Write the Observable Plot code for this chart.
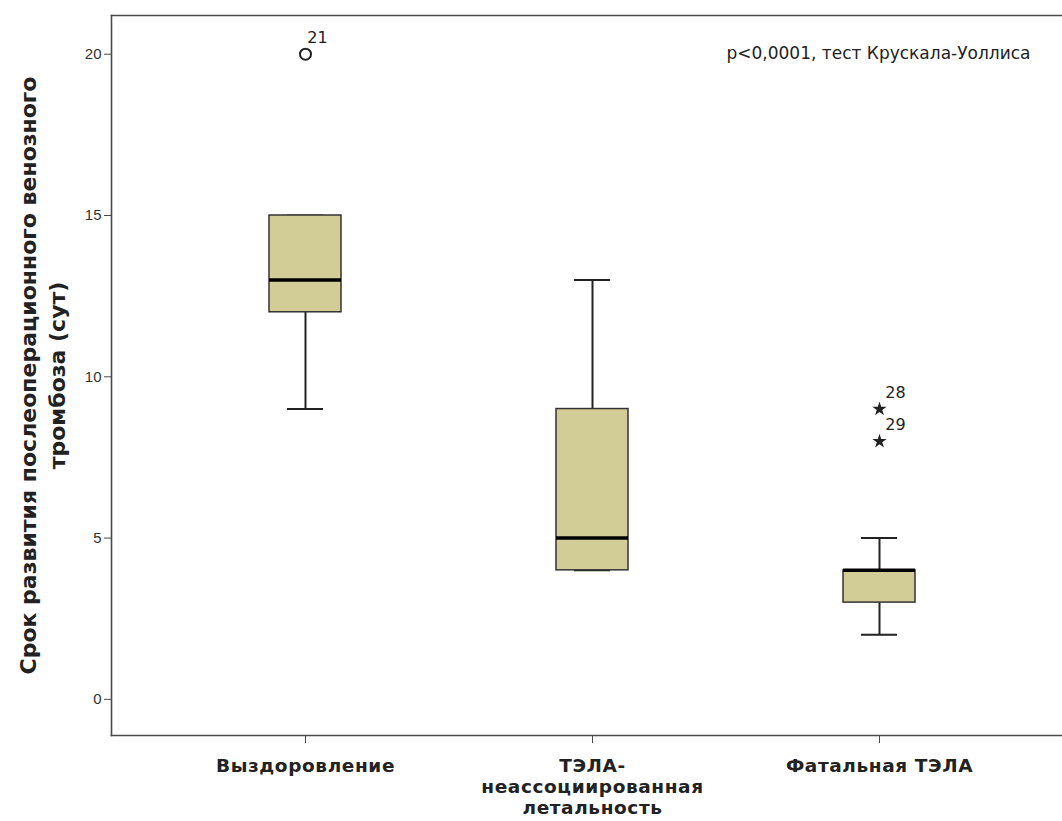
<!DOCTYPE html>
<html>
<head>
<meta charset="utf-8">
<script src="https://cdn.jsdelivr.net/npm/d3@7"></script>
<script src="https://cdn.jsdelivr.net/npm/@observablehq/plot@0.6"></script>
<style>
  html, body { margin: 0; padding: 0; background: #fff; overflow: hidden; }
  #chart { width: 1062px; height: 821px; overflow: hidden; }
  #chart svg { display: block; max-width: none !important; width: 1072px !important; height: 821px !important; }
  #chart g[aria-label="x-axis tick label"] text { letter-spacing: 0.6px; }
</style>
</head>
<body>
<div id="chart"></div>
<script>
// ---- data ----
const categories = ["Выздоровление", "ТЭЛА-неассоциированная летальность", "Фатальная ТЭЛА"];
const tickLabels = ["Выздоровление", "ТЭЛА-\nнеассоциированная\nлетальность", "Фатальная ТЭЛА"];
const q1 = [12, 4, 3];
const median = [13, 5, 4];
const q3 = [15, 9, 4];
const whiskerLow = [9, 4, 2];
const whiskerHigh = [15, 13, 5];

const outlierGroups = ["Выздоровление"];
const outlierValues = [20];
const outlierLabels = ["21"];

const extremeGroups = ["Фатальная ТЭЛА", "Фатальная ТЭЛА"];
const extremeValues = [9, 8];
const extremeLabels = ["28", "29"];

const yTicks = [0, 5, 10, 15, 20];
const yLabel = "Срок развития послеоперационного венозного\nтромбоза (сут)";
const note = "p<0,0001, тест Крускала-Уоллиса";

// ---- tables ----
const boxes = categories.map((c, i) => ({
  group: c, q1: q1[i], median: median[i], q3: q3[i], lo: whiskerLow[i], hi: whiskerHigh[i]
}));
const outliers = outlierGroups.map((g, i) => ({group: g, value: outlierValues[i], label: outlierLabels[i]}));
const extremes = extremeGroups.map((g, i) => ({group: g, value: extremeValues[i], label: extremeLabels[i]}));
const labelOf = new Map(categories.map((c, i) => [c, tickLabels[i]]));

const ink = "#222";
const fillColor = "#d2cd97";
const wide = "'DejaVu Sans', 'Liberation Sans', sans-serif";
const frameStyle = {stroke: "#4a4a4a", strokeWidth: 1.6};

const chart = Plot.plot({
  width: 1072,
  height: 821,
  marginLeft: 111,
  marginTop: 15,
  marginBottom: 86,
  marginRight: 0,
  insetLeft: 157,
  insetRight: 157,
  style: {fontFamily: "'Liberation Sans', Arial, sans-serif", color: ink, background: "#fff"},
  x: {type: "band", domain: categories, paddingInner: 0.75, paddingOuter: 0, align: 0.5},
  y: {domain: [-1.12, 21.2], ticks: yTicks},
  marks: [
    Plot.frame({anchor: "left", ...frameStyle}),
    Plot.frame({anchor: "top", ...frameStyle}),
    Plot.frame({anchor: "bottom", ...frameStyle}),
    Plot.axisY({ticks: yTicks, tickSize: 7, tickPadding: 3, fontSize: 15, label: null, stroke: "#4a4a4a", fill: "#333"}),
    Plot.axisX({tickSize: 8, tickPadding: 14, fontSize: 18.5, fontWeight: "bold", fontFamily: wide, label: null, lineHeight: 1.12,
      tickFormat: d => labelOf.get(d), stroke: "#4a4a4a", fill: ink}),
    // y label
    Plot.text([yLabel], {frameAnchor: "left", text: d => d, rotate: -90, dx: -70, dy: 0,
      fontSize: 22, fontWeight: "bold", fontFamily: wide, lineHeight: 1.3, fill: ink, textAnchor: "middle"}),
    // whiskers
    Plot.ruleX(boxes, {x: "group", y1: "lo", y2: "hi", stroke: ink, strokeWidth: 2}),
    Plot.tickY(boxes, {x: "group", y: "lo", stroke: ink, strokeWidth: 2, insetLeft: 18, insetRight: 18}),
    Plot.tickY(boxes, {x: "group", y: "hi", stroke: ink, strokeWidth: 2, insetLeft: 18, insetRight: 18}),
    // boxes
    Plot.barY(boxes, {x: "group", y1: "q1", y2: "q3", fill: fillColor, stroke: "#333", strokeWidth: 1.5}),
    Plot.tickY(boxes, {x: "group", y: "median", stroke: "#000", strokeWidth: 3.5}),
    // outliers
    Plot.dot(outliers, {x: "group", y: "value", r: 5.5, stroke: ink, strokeWidth: 2, fill: "none"}),
    Plot.text(outliers, {x: "group", y: "value", text: "label", dx: 12, dy: -16, fontSize: 16, fontFamily: wide, fill: ink}),
    // extremes
    Plot.dot(extremes, {x: "group", y: "value", symbol: "star", r: 4.5, fill: ink, stroke: "none"}),
    Plot.text(extremes, {x: "group", y: "value", text: "label", dx: 16, dy: -16, fontSize: 16, fontFamily: wide, fill: ink}),
    // note
    Plot.text([note], {frameAnchor: "top-right", text: d => d, dx: -42, dy: 31, fontSize: 17, fontFamily: wide, fill: ink, textAnchor: "end"})
  ]
});
document.getElementById("chart").appendChild(chart);
</script>
</body>
</html>
